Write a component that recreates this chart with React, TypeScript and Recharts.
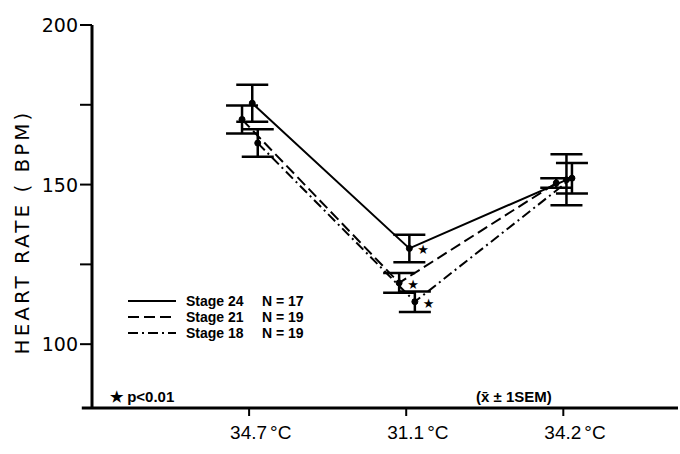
import React from "react";
import { LineChart, Line, XAxis, YAxis, ErrorBar, Legend, ReferenceLine } from "recharts";

const categories = ["34.7", "31.1", "34.2"];
const stage24 = [175.5, 130, 151.5];
const stage24Sem = [5.8, 4.3, 8];
const stage21 = [170.4, 119.2, 150.5];
const stage21Sem = [4.4, 3.1, 1.5];
const stage18 = [163, 113.3, 152];
const stage18Sem = [4.3, 3.2, 4.8];
const significant = [false, true, false];
const yTicks = [100, 125, 150, 175, 200];
const labelledTicks = [100, 150, 200];

const FONT = "'DejaVu Sans', sans-serif";
const ARIAL = "'Liberation Sans', Arial, sans-serif";

const series = [
  { key: "s24", name: "Stage 24", n: "17", values: stage24, sem: stage24Sem, dash: undefined, dodge: 0.02 },
  { key: "s21", name: "Stage 21", n: "19", values: stage21, sem: stage21Sem, dash: "11 5", dodge: -0.045 },
  { key: "s18", name: "Stage 18", n: "19", values: stage18, sem: stage18Sem, dash: "10 4 2 4", dodge: 0.055 },
];

const rowsFor = (s: typeof series[number]) =>
  s.values.map((v, i) => ({ x: i + 1 + s.dodge, y: v, err: s.sem[i] }));

const renderStar = (props: any) => {
  const { x, y, index } = props;
  if (!significant[index]) return <g key={`st-${index}`} />;
  return (
    <text key={`st-${index}`} x={x + 8} y={y + 6} fontSize={13} fontFamily={FONT} fill="#000">
      ★
    </text>
  );
};

const XTick = (props: any) => {
  const { x, y, payload } = props;
  const label = categories[Math.round(payload.value) - 1];
  return (
    <text x={x - 19} y={y + 21} fontSize={19} fontFamily={ARIAL} fill="#000">
      {label}
      <tspan dx={3}>°C</tspan>
    </text>
  );
};

const YTick = (props: any) => {
  const { x, y, payload } = props;
  if (!labelledTicks.includes(payload.value)) return <g />;
  return (
    <text x={x} y={y} textAnchor="end" dominantBaseline="central" fontSize={19} fontFamily={FONT} fill="#000">
      {payload.value}
    </text>
  );
};

const LegendBox = () => (
  <div style={{ fontFamily: ARIAL, fontWeight: 700, fontSize: 14, lineHeight: "16px" }}>
    {series.map((s) => (
      <div key={s.key} style={{ display: "flex", alignItems: "center", height: 16 }}>
        <svg width={48} height={8} style={{ marginRight: 10 }}>
          <line x1={0} y1={4} x2={48} y2={4} stroke="#000" strokeWidth={2} strokeDasharray={s.dash} />
        </svg>
        <span style={{ width: 76 }}>{s.name}</span>
        <span>N = {s.n}</span>
      </div>
    ))}
  </div>
);

export default function App() {
  return (
    <div style={{ position: "relative", width: 680, height: 454, background: "#fff" }}>
      <style>{"body{margin:0}"}</style>
      <LineChart width={680} height={454} margin={{ top: 25, right: 2, left: 0, bottom: 0 }}>
        <XAxis
          type="number"
          dataKey="x"
          domain={[0, 3.73]}
          ticks={[1, 2, 3]}
          allowDataOverflow
          height={46}
          axisLine={{ stroke: "#000", strokeWidth: 3 }}
          tickLine={{ stroke: "#000", strokeWidth: 2 }}
          tickSize={8}
          tick={<XTick />}
        />
        <YAxis
          type="number"
          domain={[80, 200]}
          ticks={yTicks}
          allowDataOverflow
          width={92}
          axisLine={{ stroke: "#000", strokeWidth: 3 }}
          tickLine={{ stroke: "#000", strokeWidth: 2 }}
          tickSize={12}
          tick={<YTick />}
        />
        <ReferenceLine
          segment={[{ x: -0.065, y: 80 }, { x: 0, y: 80 }]}
          ifOverflow="visible"
          stroke="#000"
          strokeWidth={3}
        />
        {series.map((s) => (
          <Line
            key={s.key}
            data={rowsFor(s)}
            dataKey="y"
            name={s.name}
            type="linear"
            stroke="#000"
            strokeWidth={2}
            strokeDasharray={s.dash}
            dot={{ r: 3, fill: "#000", stroke: "#000", strokeWidth: 1, strokeDasharray: "" }}
            label={renderStar}
            isAnimationActive={false}
          >
            <ErrorBar dataKey="err" direction="y" width={16} stroke="#000" strokeWidth={2.5} isAnimationActive={false} />
          </Line>
        ))}
        <Legend
          layout="vertical"
          verticalAlign="middle"
          align="center"
          wrapperStyle={{ left: 128, top: 293, width: 220 }}
          content={<LegendBox />}
        />
      </LineChart>
      <svg width={680} height={454} style={{ position: "absolute", left: 0, top: 0, pointerEvents: "none" }}>
        <text
          x={22}
          y={232}
          transform="rotate(-90 22 232)"
          textAnchor="middle"
          dominantBaseline="central"
          fontSize={20}
          letterSpacing={3}
          fontFamily={FONT}
          fill="#000"
        >
          HEART RATE ( BPM)
        </text>
        <text x={110} y={402} fontSize={15} fontWeight={700} fontFamily={ARIAL} fill="#000">
          ★ p&lt;0.01
        </text>
        <text x={476} y={402} fontSize={15} fontWeight={700} fontFamily={ARIAL} fill="#000">
          (x̄ ± 1SEM)
        </text>
      </svg>
    </div>
  );
}
